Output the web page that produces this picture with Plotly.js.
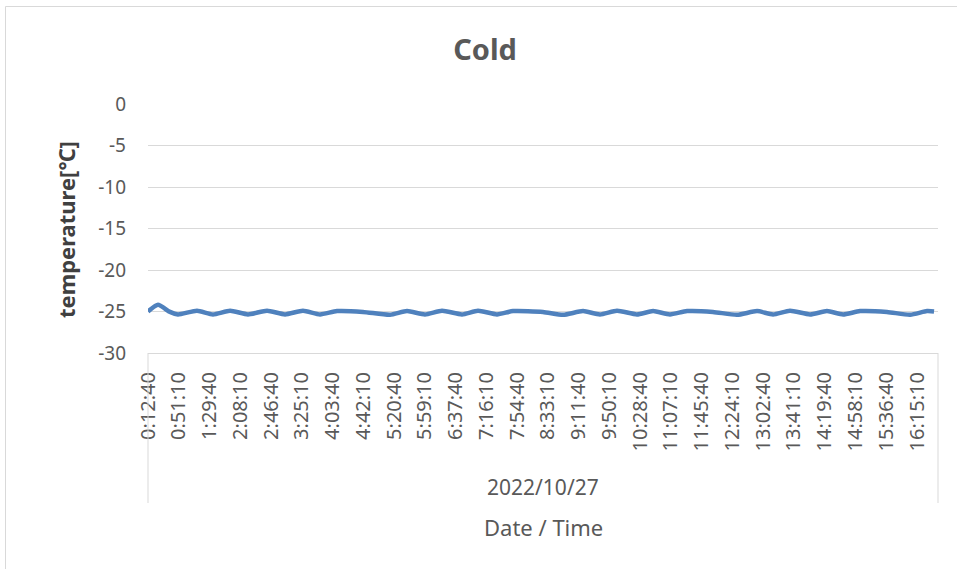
<!DOCTYPE html>
<html>
<head>
<meta charset="utf-8">
<script src="https://cdn.plot.ly/plotly-3.0.1.min.js"></script>
<style>
  html, body { margin: 0; padding: 0; background: #ffffff; overflow: hidden; }
  #chart { width: 957px; height: 569px; }
</style>
</head>
<body>
<div id="chart"></div>
<script>
// ---- Data ----
const chartTitle = "Cold";
const yTitle = "temperature[℃]";
const xTitle = "Date / Time";
const dateLabel = "2022/10/27";

// y tick values and labels (hyphen minus, as in the reference)
const yTickVals = [0, -5, -10, -15, -20, -25, -30];
const yTickLabels = ["0", "-5", "-10", "-15", "-20", "-25", "-30"];

// x tick labels (category labels shown on the axis)
const tickLabels = [
  "0:12:40", "0:51:10", "1:29:40", "2:08:10", "2:46:40", "3:25:10", "4:03:40",
  "4:42:10", "5:20:40", "5:59:10", "6:37:40", "7:16:10", "7:54:40", "8:33:10",
  "9:11:40", "9:50:10", "10:28:40", "11:07:10", "11:45:40", "12:24:10",
  "13:02:40", "13:41:10", "14:19:40", "14:58:10", "15:36:40", "16:15:10"
];

const times = [
  "0:12:40", "0:25:10", "0:40:10", "0:50:10", "1:14:00", "1:34:00", "1:55:20",
  "2:17:50", "2:41:40", "3:04:10", "3:26:40", "3:48:00", "4:09:10", "4:41:50",
  "5:15:30", "5:36:50", "5:59:20", "6:20:40", "6:45:40", "7:05:40", "7:29:30",
  "7:49:30", "8:27:00", "8:52:10", "9:17:10", "9:38:20", "9:59:40", "10:24:40",
  "10:44:50", "11:06:00", "11:27:20", "11:59:50", "12:29:50", "12:55:00",
  "13:15:00", "13:36:10", "14:01:20", "14:22:30", "14:42:40", "15:03:50",
  "15:37:40", "16:06:30", "16:27:40", "16:36:30"
];
const temps = [
  -25.0, -24.2, -25.05, -25.35, -24.9, -25.35, -24.9,
  -25.35, -24.9, -25.35, -24.9, -25.35, -24.95, -25.05,
  -25.4, -24.95, -25.35, -24.9, -25.35, -24.9, -25.35,
  -24.95, -25.05, -25.4, -24.95, -25.35, -24.9, -25.35,
  -24.95, -25.35, -24.95, -25.05, -25.4, -24.95,
  -25.35, -24.9, -25.35, -24.95, -25.35, -24.95,
  -25.05, -25.4, -24.95, -25.0
];

// ---- helpers ----
function toSec(s) {
  const p = s.split(":").map(Number);
  return p[0] * 3600 + p[1] * 60 + p[2];
}
const xs = times.map(toSec);
const tickVals = tickLabels.map(toSec);
const xStart = tickVals[0];
const secPerLabel = tickVals[1] - tickVals[0];
const xEnd = xStart + secPerLabel * (790 / 30.76);

const FONT = "Noto Sans, Open Sans, DejaVu Sans, sans-serif";
const GREY = "#595959";
const GRID = "#d9d9d9";

const trace = {
  type: "scatter",
  mode: "lines",
  x: xs,
  y: temps,
  line: { color: "#4f81bd", width: 4.5, shape: "spline", smoothing: 0.6 },
  hoverinfo: "x+y",
  showlegend: false
};

const layout = {
  width: 957,
  height: 569,
  margin: { l: 148, r: 19, t: 104, b: 216, pad: 0 },
  paper_bgcolor: "#ffffff",
  plot_bgcolor: "#ffffff",
  font: { family: FONT, color: GREY },
  title: {
    text: "<b>" + chartTitle + "</b>",
    font: { family: FONT, size: 29, color: GREY },
    xref: "container", x: 485 / 957, xanchor: "center",
    yref: "container", y: 1 - 50 / 569, yanchor: "middle"
  },
  xaxis: {
    type: "linear",
    range: [xStart, xEnd],
    tickmode: "array",
    tickvals: tickVals,
    ticktext: tickLabels,
    tickangle: -90,
    tickfont: { family: FONT, size: 20, color: GREY },
    ticks: "",
    ticklabelstandoff: 10,
    showgrid: false,
    zeroline: false,
    showline: true,
    linecolor: GRID,
    linewidth: 1,
    automargin: false,
    fixedrange: true
  },
  yaxis: {
    range: [-30, 0],
    tickmode: "array",
    tickvals: yTickVals,
    ticktext: yTickLabels,
    tickfont: { family: FONT, size: 19, color: GREY },
    ticks: "",
    ticklabelstandoff: 21,
    showgrid: true,
    gridcolor: GRID,
    gridwidth: 1,
    zeroline: false,
    showline: false,
    automargin: false,
    fixedrange: true
  },
  annotations: [
    {
      text: dateLabel,
      xref: "paper", yref: "paper",
      x: 0.5, y: -(487 - 353) / 249,
      xanchor: "center", yanchor: "middle",
      showarrow: false,
      font: { family: FONT, size: 21, color: GREY }
    },
    {
      text: xTitle,
      xref: "paper", yref: "paper",
      x: 0.5, y: -(527 - 353) / 249,
      xanchor: "center", yanchor: "middle",
      showarrow: false,
      font: { family: FONT, size: 22, color: GREY }
    },
    {
      text: "<b>" + yTitle + "</b>",
      xref: "paper", yref: "paper",
      x: -(148 - 66) / 790, y: 1 - (230 - 104) / 249,
      xanchor: "center", yanchor: "middle",
      textangle: -90,
      showarrow: false,
      font: { family: FONT, size: 22, color: "#404040" }
    }
  ],
  shapes: [
    // category box edges
    { type: "line", xref: "paper", yref: "paper", x0: 0, x1: 0, y0: 0, y1: -(503 - 353) / 249,
      line: { color: GRID, width: 1 } },
    { type: "line", xref: "paper", yref: "paper", x0: 1, x1: 1, y0: 0, y1: -(503 - 353) / 249,
      line: { color: GRID, width: 1 } },
    // chart area border
    { type: "line", xref: "paper", yref: "paper",
      x0: (5.5 - 148) / 790, x1: (960 - 148) / 790,
      y0: 1 + (104 - 6.5) / 249, y1: 1 + (104 - 6.5) / 249,
      line: { color: GRID, width: 1 } },
    { type: "line", xref: "paper", yref: "paper",
      x0: (5.5 - 148) / 790, x1: (5.5 - 148) / 790,
      y0: 1 + (104 - 6.5) / 249, y1: -(575 - 353) / 249,
      line: { color: GRID, width: 1 } }
  ]
};

Plotly.newPlot("chart", [trace], layout, { staticPlot: true, displayModeBar: false });
</script>
</body>
</html>
